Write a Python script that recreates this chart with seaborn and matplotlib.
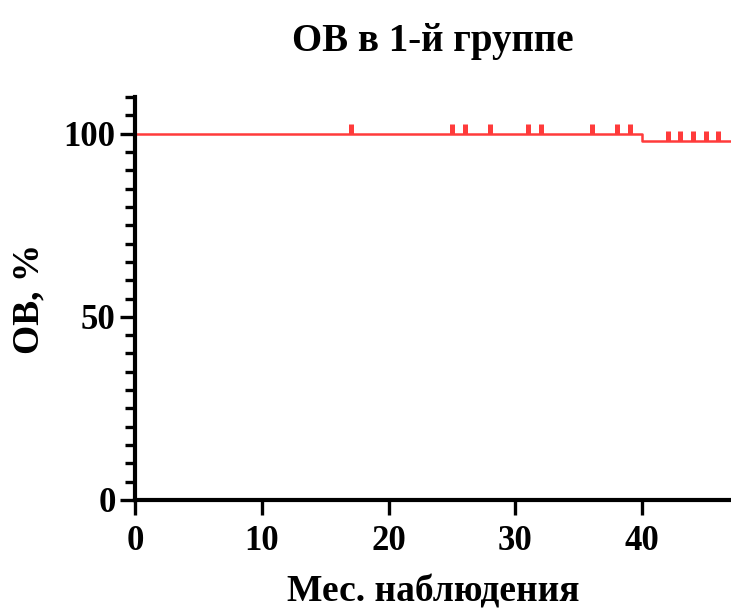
import numpy as np
import pandas as pd
import seaborn as sns
import matplotlib.pyplot as plt
from matplotlib.path import Path
from matplotlib.ticker import MultipleLocator

# survival curve (step points) and censored observations
step_months = [0, 40, 47]
step_os = [100, 97.9, 97.9]
censor_months = [17, 25, 26, 28, 31, 32, 36, 38, 39, 42, 43, 44, 45, 46]
censor_os = [100, 100, 100, 100, 100, 100, 100, 100, 100, 97.9, 97.9, 97.9, 97.9, 97.9]

x_ticks = [0, 10, 20, 30, 40]
y_ticks = [0, 50, 100]

sns.set_style('ticks')
plt.rcParams['font.family'] = ['Liberation Serif', 'DejaVu Serif']
plt.rcParams['font.weight'] = 'bold'
plt.rcParams['text.color'] = 'black'
plt.rcParams['axes.labelcolor'] = 'black'
plt.rcParams['xtick.color'] = 'black'
plt.rcParams['ytick.color'] = 'black'

curve = pd.DataFrame({'month': step_months, 'os': step_os})
cens = pd.DataFrame({'month': censor_months, 'os': censor_os})

red = '#ff3b3b'

fig = plt.figure(figsize=(7.31, 6.11), dpi=100)
ax = fig.add_axes([0.1847, 0.1817, 0.8153, 0.6593])

sns.lineplot(data=curve, x='month', y='os', drawstyle='steps-post', color=red,
             linewidth=1.8, ax=ax)

# censor mark: short vertical bar sitting on top of the curve
tick_up = Path([(0, 0), (0, 1)], [Path.MOVETO, Path.LINETO])
sns.scatterplot(data=cens, x='month', y='os', marker=tick_up, s=210,
                edgecolor=red, facecolor=red, linewidth=3.6, ax=ax)

ax.set_xlim(0, 47)
ax.set_ylim(0, 110)
ax.set_xticks(x_ticks)
ax.set_yticks(y_ticks)
ax.yaxis.set_minor_locator(MultipleLocator(5))

sns.despine(ax=ax)
for side in ['left', 'bottom']:
    ax.spines[side].set_linewidth(3)
    ax.spines[side].set_color('black')

ax.tick_params(axis='both', which='major', length=11, width=2.4, labelsize=25,
               color='black', labelcolor='black')
ax.tick_params(axis='y', which='major', pad=3)
ax.tick_params(axis='x', which='major', pad=7)
ax.tick_params(axis='y', which='minor', length=7, width=2.4, color='black')

ax.set_title('ОВ в 1-й группе', fontsize=28, fontweight='bold', pad=33)
ax.set_xlabel('Мес. наблюдения', fontsize=27, fontweight='bold', labelpad=12)
ax.set_ylabel('ОВ, %', fontsize=27, fontweight='bold', labelpad=12)

plt.savefig('out.png', dpi=100)
plt.close()
